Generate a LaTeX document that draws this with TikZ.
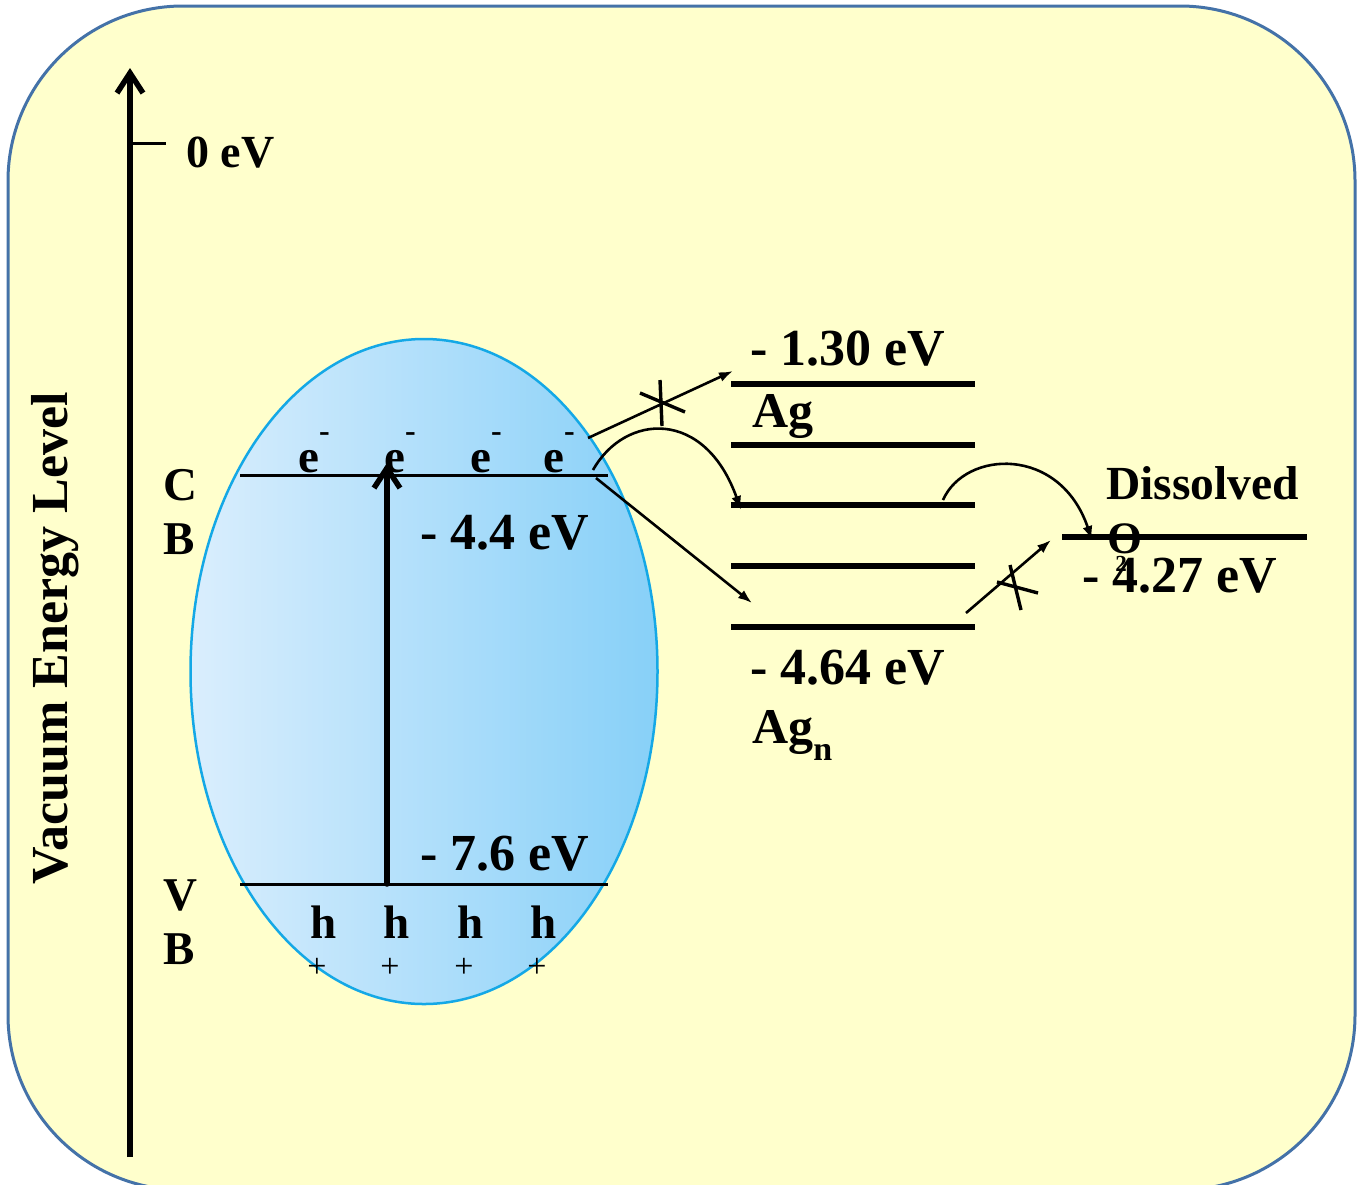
\documentclass[tikz,border=0pt]{standalone}
\usepackage{fontspec}
\setmainfont{Liberation Serif}
\usetikzlibrary{arrows.meta}
\definecolor{bgyellow}{RGB}{255,255,204}
\definecolor{frameblue}{RGB}{68,114,168}
\definecolor{elleft}{RGB}{218,238,253}
\definecolor{elright}{RGB}{135,208,248}
\definecolor{elborder}{RGB}{20,168,230}
\tikzset{
  lab/.style={font=\bfseries\fontsize{52}{52}\selectfont, inner sep=0pt, anchor=base west},
  midlab/.style={font=\bfseries\fontsize{47}{54}\selectfont, inner sep=0pt, anchor=base west},
  pluslab/.style={font=\fontsize{34}{34}\selectfont, inner sep=0pt},
  bandline/.style={line width=3pt},
  level/.style={line width=6pt},
  thinarrow/.style={line width=2.6pt, -{Latex[length=14pt,width=10pt]}},
  crossline/.style={line width=3.4pt},
  bigarrow/.style={line width=5.5pt, -{Straight Barb[length=20pt,width=26pt]}, line cap=round}
}
\begin{document}
\begin{tikzpicture}[x=1pt,y=-1pt]
\useasboundingbox (0,0) rectangle (1359,1184);
\clip (0,0) rectangle (1359,1184);
% frame
\draw[frameblue, line width=3pt, fill=bgyellow, rounded corners=175pt] (8,6) rectangle (1355,1190);
% ellipse
\shade[left color=elleft, right color=elright] (424,671.5) ellipse [x radius=233.5, y radius=332.5];
\draw[elborder, line width=2.5pt] (424,671.5) ellipse [x radius=233.5, y radius=332.5];

% vacuum axis
\coordinate (axB) at (130,1157);
\coordinate (axT) at (130,68);
\draw[bigarrow, line cap=butt] (axB) -- (axT);
\coordinate (t0a) at (130,143);
\coordinate (t0b) at (166,143);
\draw[line width=3pt] (t0a) -- (t0b);
\node[font=\bfseries\fontsize{46}{46}\selectfont, inner sep=0pt, anchor=base west] (zero) at (186,167) {0 eV};
\node[font=\bfseries\fontsize{52}{52}\selectfont, inner sep=0pt, anchor=base, rotate=90] (vac) at (67,638) {Vacuum Energy Level};

% band lines
\coordinate (cbL) at (240,475);
\coordinate (cbR) at (608,475);
\coordinate (vbL) at (240,884);
\coordinate (vbR) at (608,884);
\draw[bandline] (cbL) -- (cbR);
\draw[bandline] (vbL) -- (vbR);
\node[midlab, align=left] (cb) at (163,554) {C\\B};
\node[midlab, align=left] (vb) at (163,964) {V\\B};

% excitation arrow
\coordinate (exB) at (387,884);
\coordinate (exT) at (387,463);
\draw[bigarrow] (exB) -- (exT);

% electrons
\newcommand{\elec}{e\raisebox{31pt}{\fontsize{32}{32}\selectfont -}}
\node[midlab] (e1) at (298,472) {\elec};
\node[midlab] (e2) at (384,472) {\elec};
\node[midlab] (e3) at (470,472) {\elec};
\node[midlab] (e4) at (543,472) {\elec};
% holes
\node[midlab] (h1) at (310,938) {h};
\node[midlab] (h2) at (383,938) {h};
\node[midlab] (h3) at (457,938) {h};
\node[midlab] (h4) at (530,938) {h};
\node[pluslab] (p1) at (317,968) {+};
\node[pluslab] (p2) at (390,968) {+};
\node[pluslab] (p3) at (464,968) {+};
\node[pluslab] (p4) at (537,968) {+};

\node[lab] (cbE) at (420,549) {- 4.4 eV};
\node[lab] (vbE) at (420,870) {- 7.6 eV};

% Ag levels
\foreach \i/\y in {1/384,2/445,3/505,4/566,5/627}{
  \coordinate (L\i a) at (731,\y);
  \coordinate (L\i b) at (975,\y);
  \draw[level] (L\i a) -- (L\i b);
}
\node[lab] (ag130) at (750,365) {- 1.30 eV};
\node[lab, font=\bfseries\fontsize{50}{50}\selectfont] (ag) at (752,427) {Ag};
\node[lab] (ag464) at (750,684) {- 4.64 eV};
\node[lab, font=\bfseries\fontsize{50}{50}\selectfont] (agn) at (752,743) {Ag\raisebox{-17pt}{\fontsize{34}{34}\selectfont n}};

% O2 level
\coordinate (oa) at (1062,537);
\coordinate (ob) at (1307,537);
\draw[level] (oa) -- (ob);
\node[lab, font=\bfseries\fontsize{47.5}{47.5}\selectfont] (diss) at (1106,499) {Dissolved};
\node[lab, font=\bfseries\fontsize{45}{45}\selectfont] (oo) at (1107,553) {O};
\node[font=\bfseries\fontsize{23}{23}\selectfont, inner sep=0pt] (osub) at (1121,564) {2};
\node[lab] (o427) at (1082,592) {- 4.27 eV};

% transfer arrows
\coordinate (a1s) at (588,438);
\coordinate (a1e) at (733,371);
\draw[thinarrow] (a1s) -- (a1e);
\coordinate (x1a) at (640,393);
\coordinate (x1b) at (685,412);
\coordinate (x1c) at (660,380);
\coordinate (x1d) at (662,426);
\draw[crossline] (x1a) -- (x1b);
\draw[crossline] (x1c) -- (x1d);

\coordinate (c2s) at (593,470);
\coordinate (c2e) at (741,510);
\draw[thinarrow] (c2s) .. controls (625,413) and (705,408) .. (c2e);

\coordinate (a3s) at (596,478);
\coordinate (a3e) at (752,603);
\draw[thinarrow] (a3s) -- (a3e);

\coordinate (c4s) at (943,500);
\coordinate (c4e) at (1092,540);
\draw[thinarrow] (c4s) .. controls (965,450) and (1060,445) .. (c4e);

\coordinate (a5s) at (966,613);
\coordinate (a5e) at (1051,540);
\draw[thinarrow] (a5s) -- (a5e);
\coordinate (x5a) at (997,582);
\coordinate (x5b) at (1038,593);
\coordinate (x5c) at (1010,565);
\coordinate (x5d) at (1021,610);
\draw[crossline] (x5a) -- (x5b);
\draw[crossline] (x5c) -- (x5d);
\end{tikzpicture}
\end{document}
